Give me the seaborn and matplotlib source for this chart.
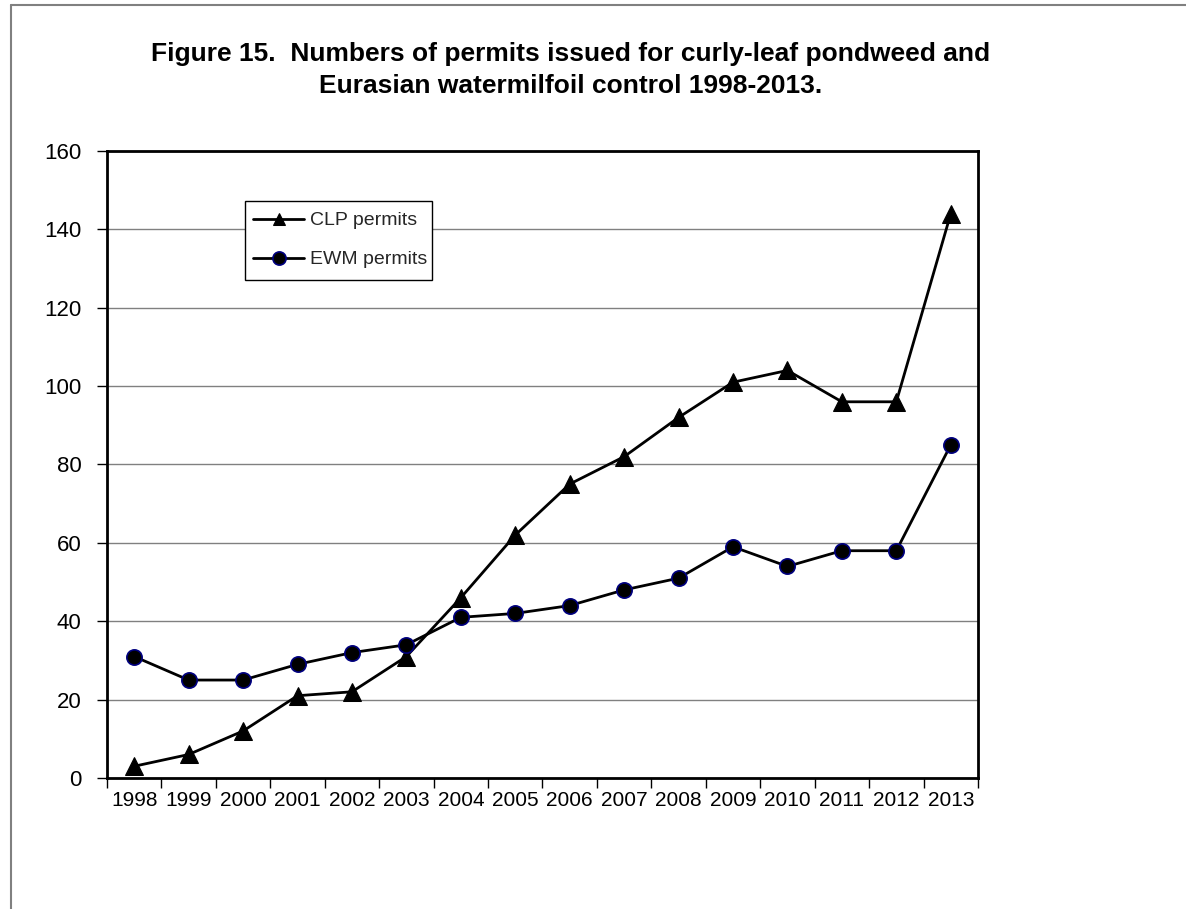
import matplotlib
matplotlib.use("Agg")
import matplotlib.pyplot as plt
from matplotlib.lines import Line2D
from matplotlib.patches import Rectangle
from matplotlib.ticker import FixedLocator, NullFormatter
import seaborn as sns
import pandas as pd

years = ["1998", "1999", "2000", "2001", "2002", "2003", "2004", "2005",
         "2006", "2007", "2008", "2009", "2010", "2011", "2012", "2013"]
clp_permits = [3, 6, 12, 21, 22, 31, 46, 62, 75, 82, 92, 101, 104, 96, 96, 144]
ewm_permits = [31, 25, 25, 29, 32, 34, 41, 42, 44, 48, 51, 59, 54, 58, 58, 85]
y_ticks = [0, 20, 40, 60, 80, 100, 120, 140, 160]

sns.set_theme(style="white")
plt.rcParams["font.family"] = ["Liberation Sans", "DejaVu Sans"]

df = pd.DataFrame({"x": range(len(years)), "clp": clp_permits, "ewm": ewm_permits})

fig = plt.figure(figsize=(11.86, 9.09), dpi=100)
ax = fig.add_axes([0.0902, 0.1441, 0.7344, 0.6898])

sns.lineplot(data=df, x="x", y="clp", ax=ax, color="black", linewidth=2,
             marker="^", markersize=13, markeredgecolor="black",
             markerfacecolor="black", label="CLP permits", zorder=3)
sns.lineplot(data=df, x="x", y="ewm", ax=ax, color="black", linewidth=2,
             marker="o", markersize=11, markeredgecolor="#000080",
             markeredgewidth=1.2, markerfacecolor="black",
             label="EWM permits", zorder=3)

ax.set_xlim(-0.5, len(years) - 0.5)
ax.set_ylim(0, 160)
ax.set_yticks(y_ticks)
ax.set_xticks(range(len(years)))
ax.set_xticklabels(years)
ax.xaxis.set_minor_locator(FixedLocator([i - 0.5 for i in range(len(years) + 1)]))
ax.xaxis.set_minor_formatter(NullFormatter())
ax.tick_params(axis="x", which="major", length=0, pad=9.5, labelsize=15, colors="black")
ax.tick_params(axis="x", which="minor", length=7, width=1, color="black",
               direction="out", bottom=True)
ax.tick_params(axis="y", which="major", length=7, width=1, color="black",
               direction="out", left=True, pad=11.5, labelsize=16, labelcolor="black")
ax.set_xlabel("")
ax.set_ylabel("")

ax.yaxis.grid(True, color="#808080", linewidth=1)
ax.set_axisbelow(True)
for sp in ax.spines.values():
    sp.set_visible(True)
    sp.set_color("black")
    sp.set_linewidth(2)

# legend without its own frame; a boxed background is drawn around it below
leg = ax.legend(loc="center left", bbox_to_anchor=(0.1676, 0.858), borderaxespad=0,
                frameon=False, fontsize=14, handlelength=2.65,
                handletextpad=0.28, labelspacing=1.1, borderpad=0)
leg.set_zorder(5)
for handle, size in zip(leg.legend_handles, [9, 9.5]):
    handle.set_markersize(size)

fig.canvas.draw()
bb = leg.get_window_extent()
box_h = 79
x0, y0 = bb.x0 - 8, (bb.y0 + bb.y1) / 2 - box_h / 2
x1, y1 = bb.x1 + 5, y0 + box_h
inv = ax.transAxes.inverted()
(ax0, ay0), (ax1, ay1) = inv.transform([(x0, y0), (x1, y1)])
ax.add_patch(Rectangle((ax0, ay0), ax1 - ax0, ay1 - ay0, transform=ax.transAxes,
                       facecolor="white", edgecolor="black", linewidth=1,
                       zorder=4, clip_on=False))

title_kw = dict(ha="center", va="baseline", fontsize=19, fontweight="bold", color="black")
fig.text(0.4815, 0.9329,
         "Figure 15.  Numbers of permits issued for curly-leaf pondweed and", **title_kw)
fig.text(0.4815, 0.8977, "Eurasian watermilfoil control 1998-2013.", **title_kw)

# page frame on the left and top edges
fig.add_artist(Line2D([0.0093, 0.0093], [0.0, 0.9945], transform=fig.transFigure,
                      color="#808080", linewidth=1.5))
fig.add_artist(Line2D([0.0093, 1.0], [0.9945, 0.9945], transform=fig.transFigure,
                      color="#808080", linewidth=1.5))

fig.savefig("out.png", dpi=100)
